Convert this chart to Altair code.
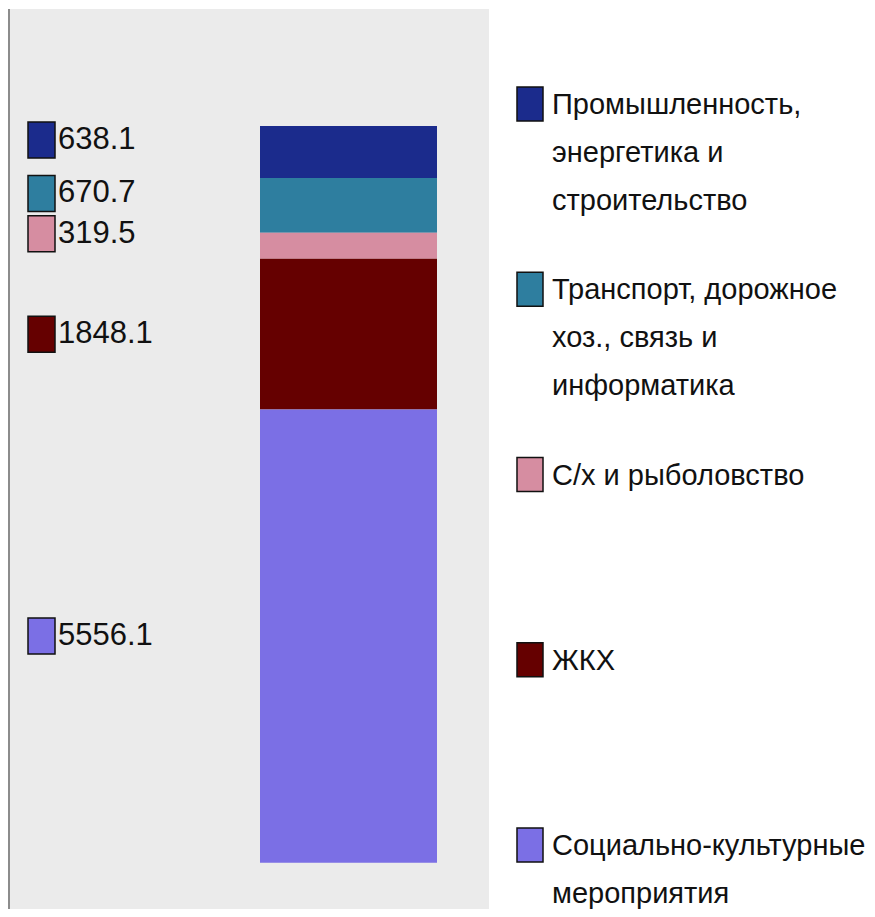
import altair as alt
import pandas as pd

# ---- data -------------------------------------------------------------
categories = [
    "Промышленность,\nэнергетика и\nстроительство",
    "Транспорт, дорожное\nхоз., связь и\nинформатика",
    "С/х и рыболовство",
    "ЖКХ",
    "Социально-культурные\nмероприятия",
]
values = [638.1, 670.7, 319.5, 1848.1, 5556.1]
colors = ["#1b2b8c", "#2e7e9f", "#d68da1", "#650000", "#7b6fe5"]

df = pd.DataFrame({
    "category": categories,
    "value": values,
    # bottom of the stack is the last category
    "stack_order": list(range(len(categories)))[::-1],
})
total = sum(values)

# ---- layout / style ----------------------------------------------------
W, H = 859, 901
FONT = "'Liberation Sans Narrow', 'Liberation Sans', Arial, sans-serif"
NUDGE = -12  # collision offset for the crowded upper labels

yq = alt.Scale(domain=[0, total], range=[854.7, 118], nice=False, zero=False)
color = alt.Color("category:N", scale=alt.Scale(domain=categories, range=colors), legend=None)

one = pd.DataFrame({"a": [0]})
background = alt.Chart(one).mark_rect(color="#ebebeb").encode(
    x=alt.value(0), x2=alt.value(481), y=alt.value(1), y2=alt.value(H)
)
border = alt.Chart(one).mark_rect(color="#8c8c8c").encode(
    x=alt.value(0), x2=alt.value(2), y=alt.value(1), y2=alt.value(H)
)

bar = alt.Chart(df).transform_calculate(group="'all'").mark_bar().encode(
    x=alt.X("group:N", scale=alt.Scale(range=[252, 429], paddingInner=0, paddingOuter=0), axis=None),
    y=alt.Y("value:Q", stack="zero", scale=yq, axis=None),
    order=alt.Order("stack_order:Q"),
    color=color,
)

base = alt.Chart(df).transform_stack(
    stack="value", groupby=[], as_=["v0", "v1"],
    sort=[alt.SortField("stack_order", order="ascending")],
).transform_calculate(mid="(datum.v0 + datum.v1) / 2")

RECT_L = "M-0.75,-1H0.75V1H-0.75Z"
RECT_R = "M-0.765,-1H0.765V1H-0.765Z"


def label_layers(src, off):
    sq = src.mark_point(shape=RECT_L, size=1296, filled=True, stroke="#111111",
                        strokeWidth=1.5, opacity=1, yOffset=off).encode(
        x=alt.value(33.5), y=alt.Y("mid:Q", scale=yq, axis=None), color=color)
    tx = src.mark_text(align="left", baseline="middle", font=FONT, fontSize=31,
                       color="#111111", yOffset=off).encode(
        x=alt.value(50), y=alt.Y("mid:Q", scale=yq, axis=None),
        text=alt.Text("value:Q", format=".1f"))
    return [sq, tx]


upper = base.transform_filter("datum.stack_order >= 2")
lower = base.transform_filter("datum.stack_order < 2")

yl = alt.Scale(type="point", domain=categories, range=[96, 837], padding=0)
leg_sq = alt.Chart(df).mark_point(shape=RECT_R, size=1156, filled=True, stroke="#111111",
                                  strokeWidth=1.5, opacity=1).encode(
    x=alt.value(522), y=alt.Y("category:N", scale=yl, axis=None), color=color)
leg_tx = alt.Chart(df).mark_text(align="left", baseline="alphabetic", dy=10, lineBreak="\n",
                                 lineHeight=48, font=FONT, fontSize=29, color="#111111").encode(
    x=alt.value(544), y=alt.Y("category:N", scale=yl, axis=None), text="category:N")

chart = alt.layer(
    background, border, bar,
    *label_layers(upper, NUDGE), *label_layers(lower, 0),
    leg_sq, leg_tx,
).resolve_scale(y="independent").properties(
    width=W, height=H, autosize="none", padding=0, background="white"
).configure_view(stroke=None)

chart.save("out.html", embed_options={"renderer": "svg", "actions": False})
